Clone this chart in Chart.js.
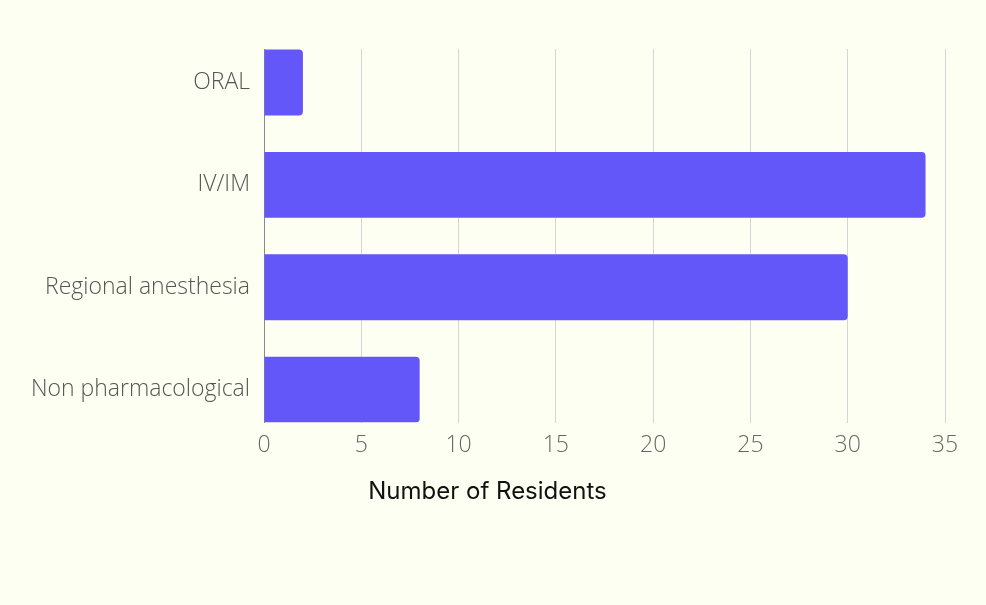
<!DOCTYPE html>
<html>
<head>
<meta charset="utf-8">
<script src="https://cdn.jsdelivr.net/npm/chart.js@4"></script>
<style>
  html, body { margin: 0; padding: 0; background: #fefff3; }
  #wrap { width: 986px; height: 605px; }
</style>
</head>
<body>
<div id="wrap"><canvas id="residentsChart"></canvas></div>
<script>
const categories = ['ORAL', 'IV/IM', 'Regional anesthesia', 'Non pharmacological'];
const residents = [2, 34, 30, 8];
const xTicks = [0, 5, 10, 15, 20, 25, 30, 35];

const ctx = document.getElementById('residentsChart').getContext('2d');
const residentsChart = new Chart(ctx, {
    type: 'bar',
    data: {
        datasets: [
            {
                label: 'Number of Residents',
                data: residents.map((v, i) => ({ x: v, y: i })),
                backgroundColor: '#6457fa',
                borderRadius: 4,
                categoryPercentage: 1,
                barPercentage: 0.644,
            }
        ]
    },
    options: {
        indexAxis: 'y',
        responsive: true,
        maintainAspectRatio: false,
        animation: false,
        layout: { padding: { top: 49, right: 41, bottom: 99, left: 30 } },
        plugins: {
            legend: { display: false },
            tooltip: { enabled: false },
            title: {
                display: true,
                position: 'bottom',
                text: 'Number of Residents',
                color: '#111',
                font: { family: 'Inter', size: 24, weight: '400' },
                padding: { top: 9, bottom: 0 }
            }
        },
        scales: {
            x: {
                type: 'linear',
                min: 0,
                max: 35,
                afterBuildTicks: scale => { scale.ticks = xTicks.map(v => ({ value: v })); },
                ticks: {
                    color: '#666',
                    padding: 9,
                    font: { family: 'Open Sans', size: 23, weight: '300' }
                },
                grid: { color: '#d4d4d4', drawTicks: false },
                border: { display: false }
            },
            y: {
                type: 'linear',
                reverse: true,
                offset: false,
                min: -0.327,
                max: 3.322,
                afterBuildTicks: scale => { scale.ticks = categories.map((c, i) => ({ value: i })); },
                afterFit: scale => { scale.width = 234; },
                ticks: {
                    color: '#555',
                    padding: 14,
                    callback: v => categories[v],
                    font: { family: 'Open Sans', size: 23, weight: '300' }
                },
                grid: { display: false, drawTicks: false, offset: false },
                border: { display: true, color: '#8a8a8a', width: 1 }
            }
        }
    }
});
</script>
</body>
</html>
